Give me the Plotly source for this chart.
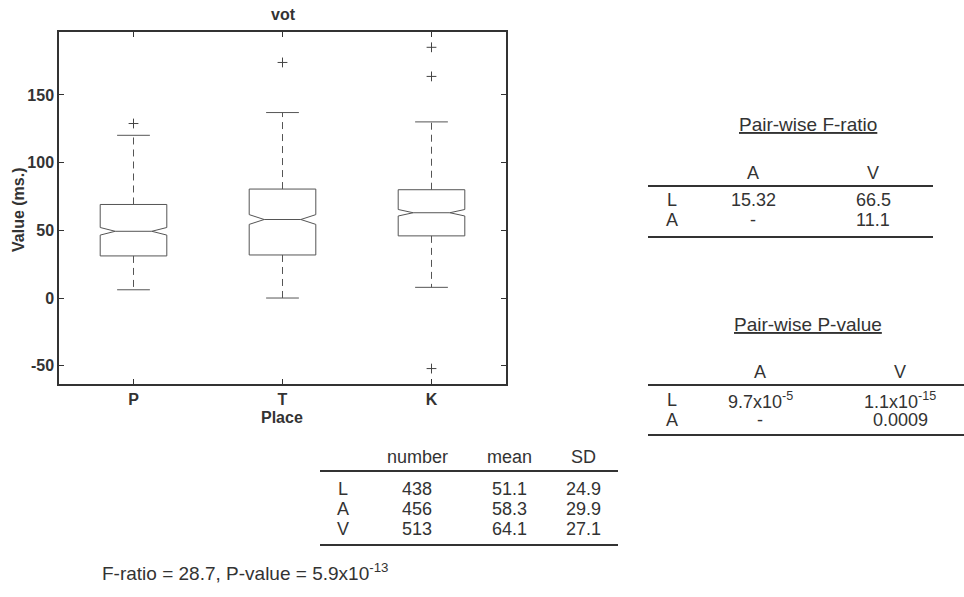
import plotly.graph_objects as go

# ---------------- data ----------------
places = ["P", "T", "K"]
q1 = [31.1, 31.8, 45.9]
medians = [49.3, 58.0, 63.0]
q3 = [69.1, 80.5, 80.0]
lower_whisker = [6.1, 0.0, 7.9]
upper_whisker = [120.2, 137.0, 130.1]
notch_span = [2.8, 3.6, 2.4]
outlier_place = ["P", "T", "K", "K", "K"]
outlier_value = [128.9, 174.0, 185.2, 163.7, -52.1]

y_ticks = [-50, 0, 50, 100, 150]
y_tick_text = ["-50", "0", "50", "100", "150"]

groups = ["L", "A", "V"]
stat_cols = ["number", "mean", "SD"]
numbers = ["438", "456", "513"]
means = ["51.1", "58.3", "64.1"]
sds = ["24.9", "29.9", "27.1"]

pair_rows = ["L", "A"]
pair_cols = ["A", "V"]
pair_f = [["15.32", "66.5"], ["-", "11.1"]]
pair_p = [["9.7x10<sup>-5</sup>", "1.1x10<sup>-15</sup>"], ["-", "0.0009"]]

f_ratio = "28.7"
p_value = "5.9x10<sup>-13</sup>"

# ---------------- geometry helpers ----------------
W, H = 964, 597
L, R, T, B = 59, 506, 32, 384
PW, PH = R - L, B - T


def px(x):
    return (x - L) / PW


def py(y):
    return (B - y) / PH


pos = {p: i + 1 for i, p in enumerate(places)}
xs = [pos[p] for p in places]

BOX_COLOR = "#555555"
AX_COLOR = "#333333"
TXT = "#333333"
FONT = "Liberation Sans, Arial, sans-serif"
TS = 18

fig = go.Figure()

# boxes with notches
fig.add_trace(go.Box(
    x=xs, q1=q1, median=medians, q3=q3,
    lowerfence=q1, upperfence=q3,
    notched=True, notchspan=notch_span, notchwidth=0.225,
    width=0.447, whiskerwidth=0,
    fillcolor="white", line=dict(color=BOX_COLOR, width=1),
    boxpoints=False, hoverinfo="skip", showlegend=False,
))

# dashed whiskers
wx, wy = [], []
for i, p in enumerate(places):
    wx += [pos[p], pos[p], None, pos[p], pos[p], None]
    wy += [q3[i], upper_whisker[i], None, q1[i], lower_whisker[i], None]
fig.add_trace(go.Scatter(x=wx, y=wy, mode="lines",
                         line=dict(color=BOX_COLOR, width=1, dash="7px,5px"),
                         hoverinfo="skip", showlegend=False))

# whisker caps
CAP = 0.11
cx, cy = [], []
for i, p in enumerate(places):
    for v in (upper_whisker[i], lower_whisker[i]):
        cx += [pos[p] - CAP, pos[p] + CAP, None]
        cy += [v, v, None]
fig.add_trace(go.Scatter(x=cx, y=cy, mode="lines",
                         line=dict(color=BOX_COLOR, width=1),
                         hoverinfo="skip", showlegend=False))

# outliers
fig.add_trace(go.Scatter(x=[pos[p] for p in outlier_place], y=outlier_value,
                         mode="markers",
                         marker=dict(symbol="cross-thin", size=7,
                                     line=dict(color="#444444", width=1)),
                         hoverinfo="skip", showlegend=False))

annotations = []
shapes = []


def text(x, y, s, size=TS, bold=False, anchor="center", angle=0):
    annotations.append(dict(
        x=px(x), y=py(y), xref="paper", yref="paper", text=s,
        showarrow=False, xanchor=anchor, yanchor="middle", textangle=angle,
        font=dict(family=FONT, size=size, color=TXT,
                  weight="bold" if bold else "normal"),
    ))


def hline(x0, x1, y):
    shapes.append(dict(type="line", xref="paper", yref="paper",
                       x0=px(x0), x1=px(x1), y0=py(y), y1=py(y),
                       line=dict(color=AX_COLOR, width=2)))


# title and axis titles
text(283, 15, "vot", size=16, bold=True)
text(19, 210, "Value (ms.)", size=16, bold=True, angle=-90)
text(282, 417, "Place", size=16, bold=True)

# pair-wise F-ratio table
text(808, 125, "<u>Pair-wise F-ratio</u>", size=19)
fcol_x = [753, 873]
for j, c in enumerate(pair_cols):
    text(fcol_x[j], 173, c)
hline(648, 933, 186)
frow_y = [200, 220]
for i, r in enumerate(pair_rows):
    text(672, frow_y[i], r)
    for j in range(len(pair_cols)):
        text(fcol_x[j], frow_y[i], pair_f[i][j])
hline(648, 933, 237)

# pair-wise P-value table
text(808, 324, "<u>Pair-wise P-value</u>", size=19)
pcol_x = [760, 900]
for j, c in enumerate(pair_cols):
    text(pcol_x[j], 372, c)
hline(648, 964, 385)
prow_y = [400, 420]
for i, r in enumerate(pair_rows):
    text(672, prow_y[i], r)
    for j in range(len(pair_cols)):
        text(pcol_x[j], prow_y[i], pair_p[i][j])
hline(648, 964, 435)

# descriptive stats table
scol_x = [417, 510, 583]
for j, c in enumerate(stat_cols):
    text(scol_x[j], 457, c)
hline(320, 618, 471)
srow_y = [489, 509, 529]
cols = [numbers, means, sds]
for i, g in enumerate(groups):
    text(343, srow_y[i], g)
    for j in range(3):
        text(scol_x[j], srow_y[i], cols[j][i])
hline(320, 618, 545)

text(100, 572, f"F-ratio = {f_ratio}, P-value = {p_value}", anchor="left", size=19)

fig.update_layout(
    width=W, height=H,
    margin=dict(l=L, r=W - R, t=T, b=H - B, pad=0),
    paper_bgcolor="white", plot_bgcolor="white",
    showlegend=False,
    annotations=annotations, shapes=shapes,
    xaxis=dict(range=[0.5, 3.5], tickvals=xs, ticktext=places,
               ticks="inside", ticklen=5, tickcolor=AX_COLOR,
               showline=True, linecolor=AX_COLOR, linewidth=1.5, mirror="ticks",
               showgrid=False, zeroline=False,
               tickfont=dict(family=FONT, size=16, color=TXT, weight="bold")),
    yaxis=dict(range=[-63.5, 196.5], tickvals=y_ticks, ticktext=y_tick_text,
               ticks="inside", ticklen=5, tickcolor=AX_COLOR,
               showline=True, linecolor=AX_COLOR, linewidth=1.5, mirror="ticks",
               showgrid=False, zeroline=False,
               tickfont=dict(family=FONT, size=16, color=TXT, weight="bold")),
)

fig.write_html("out.html")
